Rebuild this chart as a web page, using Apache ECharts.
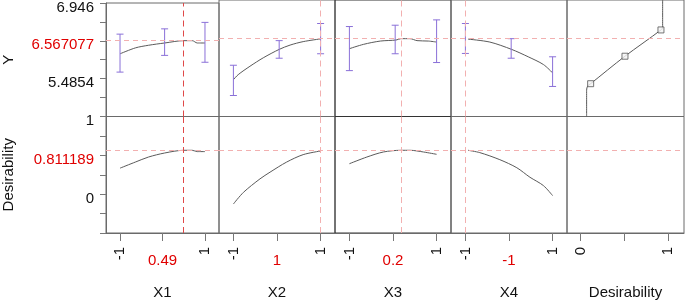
<!DOCTYPE html>
<html>
<head>
<meta charset="utf-8">
<script src="https://cdn.jsdelivr.net/npm/echarts@6/dist/echarts.min.js"></script>
<style>
  html, body { margin: 0; padding: 0; background: #fff; }
  #chart { width: 685px; height: 302px; }
</style>
</head>
<body>
<div id="chart"></div>
<script>
// factors and current settings
const factorNames = ['X1', 'X2', 'X3', 'X4']
const currentX = [0.49, 1, 0.2, -1]
const currentXLabels = ['0.49', '1', '0.2', '-1']

// response axis (Y)
const yMax = 6.946
const yStep = 0.36515
const yLabelValues = [6.946, 6.2157, 5.4854]
const yLabelTexts = ['6.946', '6.567077', '5.4854']
const yCurrent = 6.219

// desirability axis
const dLabelValues = [1, 0.5, 0]
const dLabelTexts = ['1', '0.811189', '0']
const dCurrent = 0.565

// predicted Y profiles
const yCurveX = [
  [-1, -0.64, -0.33, 0.05, 0.5, 0.7, 0.82, 1],
  [-1, -0.89, -0.62, -0.315, 0.05, 0.3, 0.6, 1],
  [-1, -0.68, -0.29, 0.07, 0.18, 0.39, 0.55, 0.81, 1],
  [-0.94, -0.44, 0.06, 0.44, 0.79, 1],
]
const yCurveY = [
  [5.965, 6.079, 6.13, 6.174, 6.219, 6.219, 6.174, 6.174],
  [5.447, 5.542, 5.7, 5.859, 6.017, 6.098, 6.163, 6.215],
  [6.03, 6.111, 6.174, 6.193, 6.219, 6.219, 6.182, 6.174, 6.155],
  [6.21, 6.155, 6.017, 5.878, 5.732, 5.575],
]

// confidence bars at design points
const barX = [-1, 0.05, 1]
const barLo = [
  [5.612, 5.935, 5.802],
  [5.15, 5.851, 5.935],
  [5.618, 5.935, 5.77],
  [5.941, 5.851, 5.32],
]
const barHi = [
  [6.345, 6.447, 6.572],
  [5.719, 6.182, 6.504],
  [6.447, 6.472, 6.572],
  [6.504, 6.219, 5.878],
]

// desirability profiles
const dCurveX = [
  [-1, -0.64, -0.33, 0.05, 0.5, 0.7, 0.82, 1],
  [-1, -0.77, -0.39, -0.16, 0.22, 0.6, 1],
  [-1, -0.6, -0.22, 0.18, 0.39, 0.7, 1],
  [-0.94, -0.67, -0.21, 0.18, 0.48, 0.79, 1],
]
const dCurveD = [
  [0.335, 0.413, 0.478, 0.53, 0.565, 0.565, 0.548, 0.548],
  [-0.127, 0.023, 0.197, 0.283, 0.413, 0.509, 0.556],
  [0.392, 0.478, 0.543, 0.565, 0.565, 0.543, 0.513],
  [0.565, 0.535, 0.444, 0.34, 0.218, 0.11, -0.019],
]

// desirability function (desirability vs Y)
const dFuncD = [0.068, 0.068, 0.08, 0.114, 0.506, 0.917, 0.936, 0.936]
const dFuncY = [4.7551, 5.25, 5.33, 5.372, 5.889, 6.383, 6.434, 6.946]
const dHandleD = [0.114, 0.506, 0.917]
const dHandleY = [5.372, 5.889, 6.383]

const yMin = yMax - 6 * yStep
const yTicks = [0, 1, 2, 3, 4, 5, 6].map((k) => yMax - k * yStep)
const dTicks = [1, 0.75, 0.5, 0.25, 0, -0.25, -0.5]

const panelLeft = [103, 219, 335, 451, 567]
const panelWidth = [116, 116, 116, 116, 117]
const rowTop = [-0.5, 116.5]
const rowHeight = [117, 116.5]

const FONT = '"Liberation Sans", Arial, sans-serif'
const BORDER = '#6a6a6a'
const CURVE = '#5a5a5a'
const BAR = '#8a70d8'
const PINK = '#f2b0b0'
const RED = '#e00000'

const chart = echarts.init(document.getElementById('chart'))

const grid = []
const xAxis = []
const yAxis = []
const series = []

function errorBar(params, api) {
  const x = api.value(0)
  const lo = api.coord([x, api.value(1)])
  const hi = api.coord([x, api.value(2)])
  const w = 3.5
  const style = { stroke: BAR, lineWidth: 1 }
  return {
    type: 'group',
    children: [
      { type: 'line', shape: { x1: lo[0], y1: lo[1], x2: hi[0], y2: hi[1] }, style },
      { type: 'line', shape: { x1: lo[0] - w, y1: lo[1], x2: lo[0] + w, y2: lo[1] }, style },
      { type: 'line', shape: { x1: hi[0] - w, y1: hi[1], x2: hi[0] + w, y2: hi[1] }, style },
    ],
  }
}

// a series that only carries one dashed reference line
function refLine(xi, yi, item, color, dash) {
  return {
    type: 'line',
    xAxisIndex: xi,
    yAxisIndex: yi,
    data: [],
    color,
    markLine: {
      silent: true,
      symbol: 'none',
      label: { show: false },
      emphasis: { disabled: true },
      lineStyle: { color, type: dash, width: 1 },
      data: [item],
    },
    z: 2,
  }
}

for (let row = 0; row < 2; row++) {
  for (let col = 0; col < 5; col++) {
    const g = grid.length
    grid.push({
      left: panelLeft[col],
      top: rowTop[row],
      width: panelWidth[col],
      height: rowHeight[row],
      show: true,
      borderColor: col === 2 ? '#333' : BORDER,
      borderWidth: 1,
      backgroundColor: 'transparent',
    })

    const isDes = col === 4
    const bottom = row === 1
    const xi = xAxis.length
    xAxis.push({
      type: 'value',
      gridIndex: g,
      position: 'bottom',
      min: isDes ? -0.156 : -1.33,
      max: isDes ? 1.18 : 1.33,
      splitLine: { show: false },
      axisLine: { show: bottom, onZero: false, lineStyle: { color: BORDER } },
      axisTick: {
        show: bottom,
        length: 8,
        lineStyle: { color: '#777' },
        customValues: isDes ? [0, 0.5, 1] : [-1, 0, 1],
      },
      axisLabel: {
        show: bottom,
        rotate: 90,
        margin: 14,
        fontSize: 15,
        color: '#111',
        customValues: isDes ? [0, 1] : [-1, 1],
      },
      name: bottom ? (isDes ? 'Desirability' : factorNames[col]) : '',
      nameLocation: 'middle',
      nameGap: 52,
      nameTextStyle: { fontSize: 15, color: '#111' },
    })

    const labelVals = row === 0 ? yLabelValues : dLabelValues
    const labelTxt = row === 0 ? yLabelTexts : dLabelTexts
    yAxis.push({
      type: 'value',
      gridIndex: g,
      min: row === 0 ? yMin : -0.5,
      max: row === 0 ? yMax : 1,
      splitLine: { show: false },
      axisLine: { show: col === 0, onZero: false, lineStyle: { color: BORDER } },
      axisTick: {
        show: col === 0,
        inside: false,
        length: 6,
        lineStyle: { color: '#777' },
        customValues: row === 0 ? yTicks : dTicks,
      },
      axisLabel: {
        show: col === 0,
        customValues: labelVals,
        margin: 12,
        fontSize: 15,
        color: '#111',
        padding: [9, 0, 0, 0],
        formatter: (v) => {
          const i = labelVals.findIndex((u) => Math.abs(u - v) < 1e-6)
          if (i < 0) return ''
          return i === 1 ? '{r|' + labelTxt[i] + '}' : labelTxt[i]
        },
        rich: { r: { color: RED, fontSize: 15 } },
      },
      name: col === 0 ? (row === 0 ? 'Y' : 'Desirability') : '',
      nameLocation: 'middle',
      nameGap: 90,
      nameTextStyle: { fontSize: 15, color: '#111' },
    })

    // current-setting reference lines
    series.push(refLine(xi, g, { yAxis: row === 0 ? yCurrent : dCurrent }, PINK, [5, 4]))
    if (!isDes) {
      const vColor = col === 0 ? '#e04848' : PINK
      series.push(refLine(xi, g, { xAxis: currentX[col] }, vColor, [6, 4]))
    }

    let lineData = []
    if (!isDes && row === 0) lineData = yCurveX[col].map((x, i) => [x, yCurveY[col][i]])
    if (!isDes && row === 1) lineData = dCurveX[col].map((x, i) => [x, dCurveD[col][i]])
    if (isDes && row === 0) lineData = dFuncD.map((d, i) => [d, dFuncY[i]])

    series.push({
      type: 'line',
      xAxisIndex: xi,
      yAxisIndex: g,
      data: lineData,
      showSymbol: false,
      smooth: 0.3,
      color: CURVE,
      lineStyle: { color: CURVE, width: 1 },
      z: 3,
    })

    if (!isDes && row === 0) {
      series.push({
        type: 'custom',
        xAxisIndex: xi,
        yAxisIndex: g,
        renderItem: errorBar,
        encode: { x: 0, y: [1, 2] },
        data: barX.map((x, i) => [x, barLo[col][i], barHi[col][i]]),
        z: 4,
      })
    }
    if (isDes && row === 0) {
      series.push({
        type: 'scatter',
        xAxisIndex: xi,
        yAxisIndex: g,
        symbol: 'rect',
        symbolSize: 6,
        itemStyle: { color: '#f4f4f4', borderColor: '#555', borderWidth: 1 },
        data: dHandleD.map((d, i) => [d, dHandleY[i]]),
        z: 5,
      })
    }

    // red current-value label under each factor panel
    if (bottom && !isDes) {
      xAxis.push({
        type: 'value',
        gridIndex: g,
        position: 'bottom',
        min: -1.33,
        max: 1.33,
        splitLine: { show: false },
        axisLine: { show: false, onZero: false },
        axisTick: { show: false },
        axisLabel: {
          customValues: [0],
          margin: 20,
          fontSize: 15,
          color: RED,
          formatter: () => currentXLabels[col],
        },
      })
    }
  }
}

chart.setOption({
  animation: false,
  backgroundColor: '#fff',
  textStyle: { fontFamily: FONT },
  grid,
  xAxis,
  yAxis,
  series,
})
</script>
</body>
</html>
